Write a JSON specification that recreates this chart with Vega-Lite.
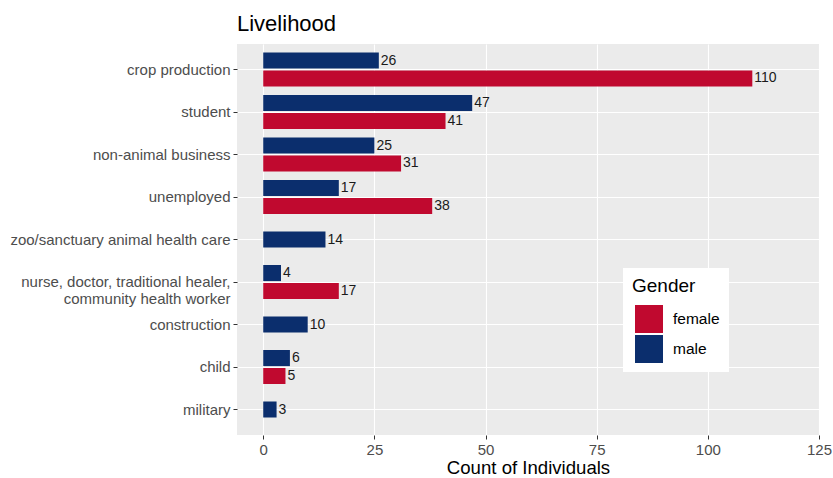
{
  "$schema": "https://vega.github.io/schema/vega-lite/v6.json",
  "width": 582,
  "height": 391,
  "autosize": {"type": "none"},
  "padding": {"left": 237, "top": 44, "right": 14, "bottom": 43},
  "background": "white",
  "title": {
    "text": "Livelihood",
    "anchor": "start",
    "frame": "group",
    "font": "Liberation Sans",
    "fontSize": 22,
    "fontWeight": "normal",
    "color": "#000000",
    "offset": 8
  },
  "config": {
    "view": {"fill": "#EBEBEB", "stroke": null},
    "font": "Liberation Sans",
    "legend": {
      "orient": "none",
      "legendX": 386,
      "legendY": 224,
      "fillColor": "white",
      "padding": 9,
      "titleFontSize": 19,
      "titleFontWeight": "normal",
      "titleColor": "#000000",
      "titlePadding": 9,
      "labelFontSize": 15.5,
      "labelColor": "#000000",
      "labelOffset": 10,
      "symbolType": "square",
      "symbolSize": 784,
      "symbolStrokeWidth": 0,
      "symbolOffset": 3,
      "rowPadding": 2
    }
  },
  "data": {
    "values": [
      {"livelihood": "crop production", "gender": "male", "count": 26},
      {"livelihood": "crop production", "gender": "female", "count": 110},
      {"livelihood": "student", "gender": "male", "count": 47},
      {"livelihood": "student", "gender": "female", "count": 41},
      {"livelihood": "non-animal business", "gender": "male", "count": 25},
      {"livelihood": "non-animal business", "gender": "female", "count": 31},
      {"livelihood": "unemployed", "gender": "male", "count": 17},
      {"livelihood": "unemployed", "gender": "female", "count": 38},
      {"livelihood": "zoo/sanctuary animal health care", "gender": "male", "count": 14},
      {"livelihood": "nurse, doctor, traditional healer, community health worker", "gender": "male", "count": 4},
      {"livelihood": "nurse, doctor, traditional healer, community health worker", "gender": "female", "count": 17},
      {"livelihood": "construction", "gender": "male", "count": 10},
      {"livelihood": "child", "gender": "male", "count": 6},
      {"livelihood": "child", "gender": "female", "count": 5},
      {"livelihood": "military", "gender": "male", "count": 3}
    ]
  },
  "transform": [
    {"joinaggregate": [{"op": "count", "as": "n"}], "groupby": ["livelihood"]}
  ],
  "encoding": {
    "y": {
      "field": "livelihood",
      "type": "nominal",
      "sort": ["crop production", "student", "non-animal business", "unemployed", "zoo/sanctuary animal health care", "nurse, doctor, traditional healer, community health worker", "construction", "child", "military"],
      "scale": {"paddingInner": 0.2, "paddingOuter": 0.2},
      "axis": {
        "title": null,
        "domain": false,
        "bandPosition": 0.5,
        "grid": true,
        "gridColor": "white",
        "gridWidth": 1.1,
        "ticks": true,
        "tickColor": "#333333",
        "tickSize": 4,
        "tickWidth": 1,
        "labelPadding": 3,
        "labelFontSize": 15,
        "labelColor": "#4D4D4D",
        "labelLineHeight": 17,
        "labelLimit": 400,
        "labelExpr": "datum.label == 'nurse, doctor, traditional healer, community health worker' ? ['nurse, doctor, traditional healer,', 'community health worker'] : datum.label"
      }
    },
    "x": {
      "field": "count",
      "type": "quantitative",
      "scale": {"domain": [-5.9, 125], "nice": false, "zero": false},
      "axis": {
        "title": "Count of Individuals",
        "values": [0, 25, 50, 75, 100, 125],
        "domain": false,
        "grid": true,
        "gridColor": "white",
        "gridWidth": 1.1,
        "tickColor": "#333333",
        "tickSize": 4,
        "labelPadding": 3,
        "labelFontSize": 15,
        "labelColor": "#4D4D4D",
        "labelFlush": false,
        "titleFontSize": 18.6,
        "titleFontWeight": "normal",
        "titleColor": "#000000",
        "titlePadding": 1
      }
    },
    "color": {
      "field": "gender",
      "type": "nominal",
      "title": "Gender",
      "scale": {"domain": ["female", "male"], "range": ["#C0092F", "#0B2E6D"]}
    }
  },
  "layer": [
    {
      "transform": [{"filter": "datum.n == 2"}],
      "mark": {"type": "bar"},
      "encoding": {
        "yOffset": {"field": "gender", "type": "nominal", "scale": {"domain": ["male", "female"], "paddingInner": 0.1}}
      }
    },
    {
      "transform": [{"filter": "datum.n == 2"}],
      "mark": {"type": "text", "align": "left", "baseline": "middle", "dx": 2, "fontSize": 14, "color": "#1A1A1A"},
      "encoding": {
        "yOffset": {"field": "gender", "type": "nominal", "scale": {"domain": ["male", "female"], "paddingInner": 0.1}},
        "text": {"field": "count", "type": "quantitative"},
        "color": {"value": "#1A1A1A"}
      }
    },
    {
      "transform": [{"filter": "datum.n == 1"}],
      "mark": {"type": "bar", "height": {"band": 0.47}}
    },
    {
      "transform": [{"filter": "datum.n == 1"}],
      "mark": {"type": "text", "align": "left", "baseline": "middle", "dx": 2, "fontSize": 14, "color": "#1A1A1A"},
      "encoding": {
        "text": {"field": "count", "type": "quantitative"},
        "color": {"value": "#1A1A1A"}
      }
    }
  ]
}
